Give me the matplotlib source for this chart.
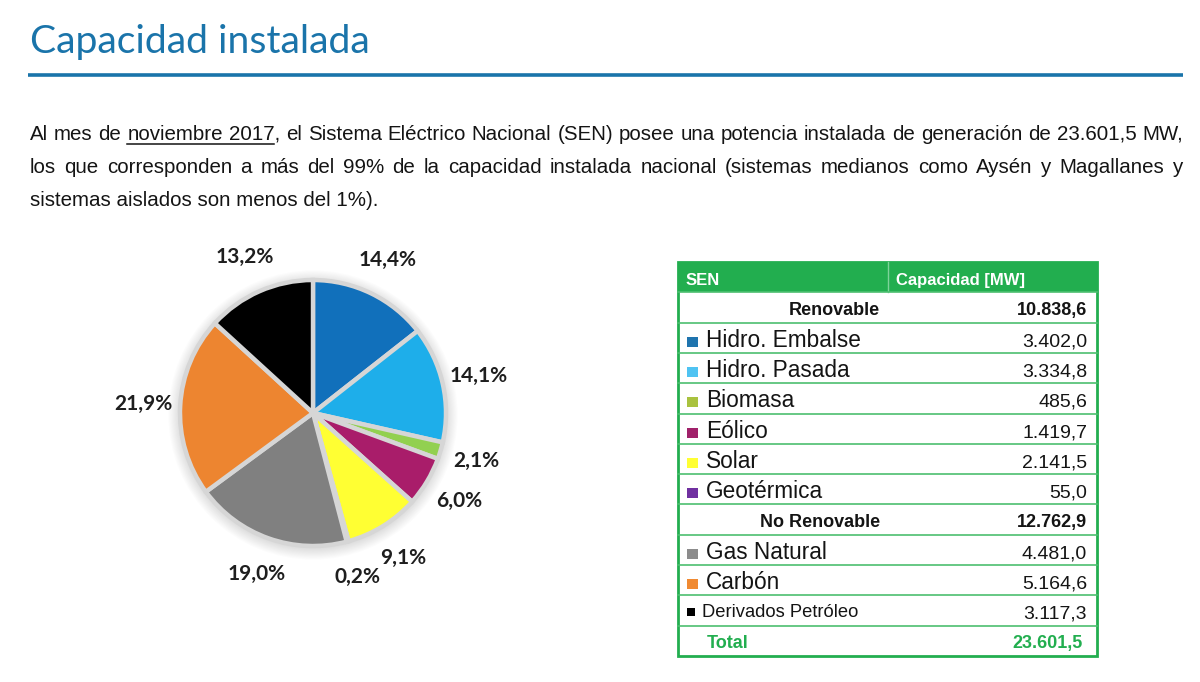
import matplotlib
matplotlib.use("Agg")
import matplotlib.pyplot as plt
from matplotlib.patches import Rectangle, Circle

# ---------------- data ----------------
title_text = "Capacidad instalada"
paragraph = [
    "Al mes de noviembre 2017, el Sistema Eléctrico Nacional (SEN) posee una potencia instalada de generación de 23.601,5 MW,",
    "los que corresponden a más del 99% de la capacidad instalada nacional (sistemas medianos como Aysén y Magallanes y",
    "sistemas aislados son menos del 1%).",
]
underlined_words = ["noviembre", "2017"]

categories = ["Hidro. Embalse", "Hidro. Pasada", "Biomasa", "Eólico", "Solar",
              "Geotérmica", "Gas Natural", "Carbón", "Derivados Petróleo"]
capacity_mw = [3402.0, 3334.8, 485.6, 1419.7, 2141.5, 55.0, 4481.0, 5164.6, 3117.3]
pie_colors = ["#1170BB", "#1EAEEA", "#92D050", "#A91D6A", "#FFFF33",
              "#7030A0", "#808080", "#ED8530", "#000000"]
legend_colors = ["#1F74AE", "#4FC3F2", "#A9C23F", "#A0216A", "#FFFF33",
                 "#7030A0", "#8C8C8C", "#F08A32", "#000000"]

header_labels = ["SEN", "Capacidad [MW]"]
group_names = ["Renovable", "No Renovable"]
group_totals = [10838.6, 12762.9]
group_sizes = [6, 3]
total_label = "Total"
total_value = 23601.5

# ---------------- figure ----------------
W, H = 1200, 682
fig = plt.figure(figsize=(12, 6.82), dpi=100)
bg = fig.add_axes([0, 0, 1, 1])
bg.set_xlim(0, W)
bg.set_ylim(H, 0)
bg.axis("off")
renderer = fig.canvas.get_renderer()

BLUE = "#1A74AA"
GREEN = "#22AE4F"
LINE_GREEN = "#4DBF70"
TXT = "#141414"


def text_width(s, **kw):
    t = bg.text(0, 0, s, **kw)
    w = t.get_window_extent(renderer).width
    t.remove()
    return w


# Title (fit to reference width)
title_kw = dict(family="Lato", color=BLUE, va="baseline", ha="left")
tw = text_width(title_text, fontsize=30, **title_kw)
bg.text(30, 53, title_text, fontsize=30 * 340 / tw, **title_kw)
bg.plot([28, 1183], [75, 75], color=BLUE, lw=2.6, solid_capstyle="butt")

# Paragraph, justified
pkw = dict(family="Liberation Sans", fontsize=14.8, color=TXT, va="baseline", ha="left")
left, right = 30, 1183
baselines = [140, 173, 206]
for li, line in enumerate(paragraph):
    y = baselines[li]
    if li == len(paragraph) - 1:
        bg.text(left, y, line, **pkw)
        continue
    words = line.split(" ")
    widths = [text_width(w, **pkw) for w in words]
    gap = (right - left - sum(widths)) / (len(words) - 1)
    x = left
    xs = []
    for w, wd in zip(words, widths):
        bg.text(x, y, w, **pkw)
        xs.append(x)
        x += wd + gap
    if li == 0:
        i0 = words.index(underlined_words[0])
        i1 = [k for k, w in enumerate(words) if w.startswith(underlined_words[1])][0]
        x_end = xs[i1] + text_width(underlined_words[1], **pkw)
        bg.plot([xs[i0], x_end], [y + 3.5, y + 3.5], color=TXT, lw=1.1)

# ---------------- pie ----------------
R_px = 133
cx, cy = 313, 413
lim = 1.45
side = 2 * lim * R_px
pax = fig.add_axes([(cx - side / 2) / W, (H - cy - side / 2) / H, side / W, side / H])
for k in range(12):
    pax.add_patch(Circle((0.0, -0.015), 1.0 + 0.008 * k, facecolor="black",
                         alpha=0.012, edgecolor="none", zorder=0))
pax.pie(capacity_mw, colors=pie_colors, startangle=90, counterclock=False, radius=1,
        wedgeprops=dict(edgecolor="#D6D6D6", linewidth=3.2),
        autopct=lambda p: f"{p:.1f}%".replace(".", ","), pctdistance=1.28,
        textprops=dict(fontsize=15, fontweight="bold", family="Lato", color="#1E1E1E"))
pax.set_xlim(-lim, lim)
pax.set_ylim(-lim, lim)
pax.set_aspect("equal")
pax.axis("off")

# ---------------- table ----------------
def fmt(v):
    return f"{v:,.1f}".replace(",", "X").replace(".", ",").replace("X", ".")


rows = [("header", header_labels[0], header_labels[1], None)]
idx = 0
for g in range(len(group_names)):
    rows.append(("group", group_names[g], group_totals[g], None))
    for _ in range(group_sizes[g]):
        rows.append(("item", categories[idx], capacity_mw[idx], legend_colors[idx]))
        idx += 1
rows.append(("total", total_label, total_value, None))

tx0, tx1, ty0 = 678, 1097, 262
rh = 30.3
ncol_split = 888
ty1 = ty0 + rh * len(rows)

bg.add_patch(Rectangle((tx0, ty0), tx1 - tx0, rh, facecolor=GREEN, edgecolor="none"))
bg.plot([ncol_split, ncol_split], [ty0, ty0 + rh], color="#7ED39A", lw=1)
for i in range(1, len(rows)):
    bg.plot([tx0, tx1], [ty0 + i * rh] * 2, color=LINE_GREEN, lw=1.2)
bg.add_patch(Rectangle((tx0, ty0), tx1 - tx0, ty1 - ty0, facecolor="none",
                       edgecolor=GREEN, lw=2))

tkw = dict(family="Liberation Sans", va="baseline")
for i, (kind, label, value, col) in enumerate(rows):
    top = ty0 + i * rh
    if kind == "header":
        bg.text(686, top + 23, label, fontsize=12, fontweight="bold", color="white", ha="left", **tkw)
        bg.text(896, top + 23, value, fontsize=12, fontweight="bold", color="white", ha="left", **tkw)
    elif kind == "group":
        bg.text(880, top + 23, label, fontsize=13, fontweight="bold", color=TXT, ha="right", **tkw)
        bg.text(1087, top + 23, fmt(value), fontsize=13, fontweight="bold", color=TXT, ha="right", **tkw)
    elif kind == "item":
        small = len(label) > 15
        if small:
            bg.add_patch(Rectangle((687, top + 13), 8, 8, facecolor=col, edgecolor="none"))
            bg.text(702, top + 21.5, label, fontsize=13.2, color=TXT, ha="left", **tkw)
        else:
            bg.add_patch(Rectangle((687, top + 14), 11, 10, facecolor=col, edgecolor="none"))
            bg.text(706, top + 24, label, fontsize=16.3, color=TXT, ha="left", **tkw)
        bg.text(1087, top + 23.5, fmt(value), fontsize=14, color=TXT, ha="right", **tkw)
    else:
        bg.text(707, top + 22, label, fontsize=13, fontweight="bold", color=GREEN, ha="left", **tkw)
        bg.text(1083, top + 22, fmt(value), fontsize=13, fontweight="bold", color=GREEN, ha="right", **tkw)

fig.savefig("out.png", dpi=100)
